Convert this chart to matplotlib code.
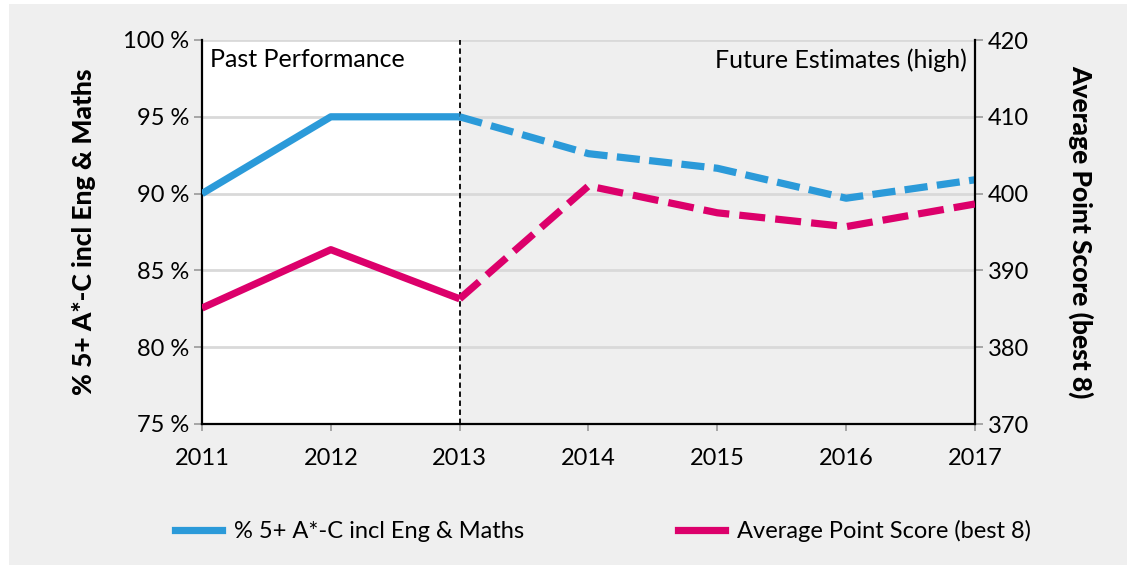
import matplotlib
matplotlib.use("Agg")
import matplotlib.pyplot as plt
from matplotlib.lines import Line2D
from matplotlib.patches import Rectangle

years = [2011, 2012, 2013, 2014, 2015, 2016, 2017]
pct_5ac = [90.0, 95.0, 95.0, 92.6, 91.65, 89.7, 90.9]
aps_best8 = [385.1, 392.7, 386.3, 401.0, 397.5, 395.7, 398.65]
split_year = 2013
left_ticks = [75, 80, 85, 90, 95, 100]
right_ticks = [370, 380, 390, 400, 410, 420]
label_pct = "% 5+ A*-C incl Eng & Maths"
label_aps = "Average Point Score (best 8)"

BLUE = "#2b9ad9"
PINK = "#dc006b"
BG = "#efefef"
GRID = "#d9d9d9"

plt.rcParams['font.family'] = ['Lato', 'DejaVu Sans']

fig = plt.figure(figsize=(11.44, 5.69), dpi=100)
fig.patch.set_facecolor("white")
fig.patches.append(Rectangle((9/1144, 4/569), (1127-9)/1144, (565-4)/569,
                             transform=fig.transFigure, facecolor=BG,
                             edgecolor="none", zorder=-10))

ax = fig.add_axes([202/1144, 1-424/569, (975-202)/1144, (424-40)/569])
ax.set_facecolor(BG)
ax.set_xlim(years[0], years[-1])
ax.set_ylim(75, 100)
ax.axvspan(years[0], split_year, facecolor="white", zorder=0)
for t in left_ticks:
    ax.axhline(t, color=GRID, lw=2.0, zorder=1)
ax.axvline(split_year, color="black", lw=1.3, ls=(0, (3, 2)), zorder=3)

ax2 = ax.twinx()
ax2.set_ylim(370, 420)

i = years.index(split_year)
lw = 5.2
ax.plot(years[:i+1], pct_5ac[:i+1], color=BLUE, lw=lw, solid_capstyle="butt", zorder=5)
ax.plot(years[i:], pct_5ac[i:], color=BLUE, lw=lw, ls=(0, (3.2, 1.3)),
        dash_capstyle="butt", zorder=5)
ax2.plot(years[:i+1], aps_best8[:i+1], color=PINK, lw=lw, solid_capstyle="butt", zorder=5)
ax2.plot(years[i:], aps_best8[i:], color=PINK, lw=lw, ls=(0, (3.6, 1.4)),
         dash_capstyle="butt", zorder=5)

ax.set_yticks(left_ticks)
ax.set_yticklabels([f"{t} %" for t in left_ticks])
ax2.set_yticks(right_ticks)
ax2.set_yticklabels([str(t) for t in right_ticks])
ax.set_xticks(years)
ax.set_xticklabels([str(y) for y in years])

for a in (ax, ax2):
    a.spines['top'].set_visible(False)
    for s in a.spines.values():
        s.set_linewidth(1.6)
        s.set_color("black")
ax2.spines['left'].set_visible(False)
ax2.spines['bottom'].set_visible(False)
ax.spines['right'].set_visible(False)

ax.tick_params(axis='y', length=6, width=1.2, color="#999999", labelsize=17, pad=3)
ax.tick_params(axis='x', length=5, width=1.2, color="#999999", labelsize=17, pad=12)
ax2.tick_params(axis='y', length=6, width=1.2, color="#999999", labelsize=17, pad=3)

ax.set_ylabel(label_pct, fontsize=19, fontweight="black", labelpad=20)
ax2.set_ylabel(label_aps, fontsize=19, fontweight="black", rotation=270, labelpad=47)

ax.text(years[0] + 0.06, 98.7, "Past Performance", fontsize=18, ha="left", va="center", zorder=6)
ax.text(years[-1] - 0.06, 98.7, "Future Estimates (high)", fontsize=18, ha="right", va="center", zorder=6)

handles = [Line2D([], [], color=BLUE, lw=lw), Line2D([], [], color=PINK, lw=lw)]
fig.legend(handles, [label_pct, label_aps], loc="center", ncol=2,
           bbox_to_anchor=(0.527, 1-531/569), frameon=False, fontsize=17,
           handlelength=2.0, handletextpad=0.5, columnspacing=6.5)

fig.savefig("out.png", dpi=100, facecolor=fig.get_facecolor())
